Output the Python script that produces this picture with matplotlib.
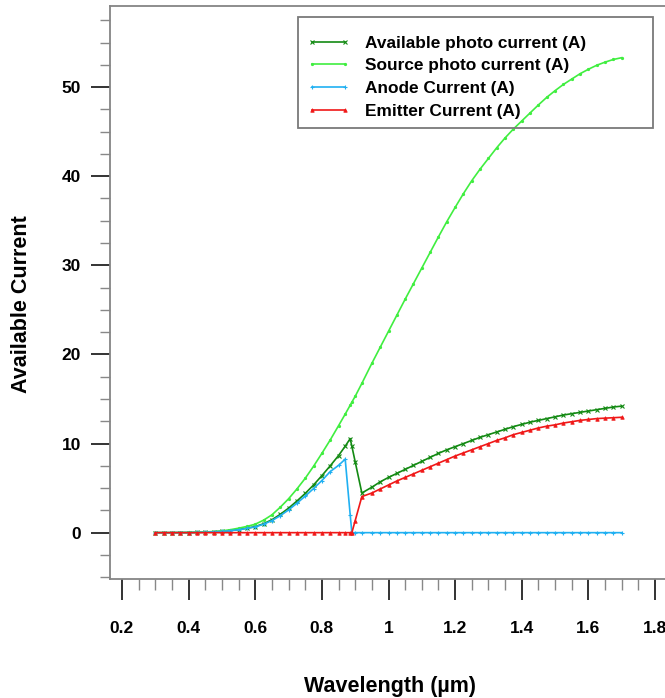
#!/usr/bin/env python3
# -*- coding: utf-8 -*-

import matplotlib
matplotlib.use('Agg')
import matplotlib.pyplot as plt
from matplotlib.patches import Rectangle
from matplotlib.ticker import MultipleLocator

plt.rcParams['font.family'] = ['Liberation Sans', 'DejaVu Sans']
plt.rcParams['font.weight'] = 'bold'

wavelength = [0.300, 0.325, 0.350, 0.375, 0.400, 0.425, 0.450, 0.475, 0.500,
              0.525, 0.550, 0.575, 0.600, 0.625, 0.650, 0.675, 0.700, 0.725,
              0.750, 0.775, 0.800, 0.825, 0.850, 0.870, 0.885, 0.890, 0.900,
              0.920, 0.950, 0.975, 1.000, 1.025, 1.050, 1.075, 1.100, 1.125,
              1.150, 1.175, 1.200, 1.225, 1.250, 1.275, 1.300, 1.325, 1.350,
              1.375, 1.400, 1.425, 1.450, 1.475, 1.500, 1.525, 1.550, 1.575,
              1.600, 1.625, 1.650, 1.675, 1.700]

available = [0.00, 0.00, 0.00, 0.01, 0.01, 0.03, 0.05, 0.09, 0.14,
             0.23, 0.35, 0.50, 0.68, 1.00, 1.45, 2.05, 2.75, 3.55,
             4.40, 5.35, 6.40, 7.50, 8.65, 9.70, 10.55, 9.70, 7.95,
             4.45, 5.10, 5.70, 6.20, 6.65, 7.10, 7.55, 8.00, 8.45,
             8.90, 9.30, 9.65, 10.00, 10.35, 10.70, 11.00, 11.30, 11.60,
             11.90, 12.15, 12.40, 12.60, 12.80, 13.00, 13.20, 13.35, 13.50,
             13.65, 13.80, 13.95, 14.10, 14.20]

source = [0.00, 0.00, 0.00, 0.01, 0.02, 0.04, 0.07, 0.13, 0.20,
          0.33, 0.50, 0.70, 0.95, 1.40, 2.00, 2.85, 3.80, 4.90,
          6.10, 7.45, 8.90, 10.40, 12.00, 13.30, 14.30, 14.65, 15.30,
          16.75, 19.00, 20.80, 22.60, 24.40, 26.20, 27.95, 29.70, 31.45,
          33.20, 34.90, 36.50, 38.05, 39.50, 40.80, 42.00, 43.20, 44.30,
          45.30, 46.20, 47.10, 48.00, 48.85, 49.60, 50.30, 50.90, 51.50,
          52.00, 52.45, 52.80, 53.10, 53.30]

anode = [0.00, 0.00, 0.00, 0.01, 0.01, 0.03, 0.05, 0.09, 0.14,
         0.22, 0.33, 0.48, 0.65, 0.95, 1.35, 1.90, 2.55, 3.30,
         4.10, 4.95, 5.85, 6.85, 7.55, 8.25, 2.00, 0.00, 0.00,
         0.00, 0.00, 0.00, 0.00, 0.00, 0.00, 0.00, 0.00, 0.00,
         0.00, 0.00, 0.00, 0.00, 0.00, 0.00, 0.00, 0.00, 0.00,
         0.00, 0.00, 0.00, 0.00, 0.00, 0.00, 0.00, 0.00, 0.00,
         0.00, 0.00, 0.00, 0.00, 0.00]

emitter = [0.00, 0.00, 0.00, 0.00, 0.00, 0.00, 0.00, 0.00, 0.00,
           0.00, 0.00, 0.00, 0.00, 0.00, 0.00, 0.00, 0.00, 0.00,
           0.00, 0.00, 0.00, 0.00, 0.00, 0.00, 0.00, 0.00, 1.35,
           4.05, 4.45, 4.90, 5.35, 5.80, 6.20, 6.60, 7.00, 7.40,
           7.80, 8.20, 8.60, 8.95, 9.30, 9.65, 10.00, 10.35, 10.65,
           11.00, 11.25, 11.50, 11.75, 11.95, 12.10, 12.30, 12.45, 12.60,
           12.70, 12.80, 12.85, 12.90, 12.95]


if __name__ == '__main__':
    fig = plt.figure(figsize=(6.65, 6.98), dpi=100)
    W, H = 665.0, 698.0
    # axes box in pixels: left 110, top 6, bottom 579, right beyond the image
    ax = fig.add_axes([110 / W, (H - 579) / H, 565 / W, 573 / H])

    kw = dict(linewidth=1.2, markersize=3, markeredgewidth=0.8)
    ax.plot(wavelength, available, color='#138a13', marker='x',
            label='Available photo current (A)', **kw)
    ax.plot(wavelength, source, color='#40ee40', marker='.',
            label='Source photo current (A)', **kw)
    ax.plot(wavelength, anode, color='#20b0f2', marker='+',
            label='Anode Current (A)', **kw)
    ax.plot(wavelength, emitter, color='#f01818', marker='^',
            label='Emitter Current (A)', linewidth=1.2, markersize=2.5,
            markeredgewidth=0.6)

    ax.set_xlim(0.164, 1.86)
    ax.set_ylim(-5.2, 59.1)
    ax.xaxis.set_minor_locator(MultipleLocator(0.05))
    ax.yaxis.set_major_locator(MultipleLocator(10))
    ax.yaxis.set_minor_locator(MultipleLocator(2.5))
    ax.set_xticks([0.2, 0.4, 0.6, 0.8, 1.0, 1.2, 1.4, 1.6, 1.8])
    ax.set_xticklabels(['0.2', '0.4', '0.6', '0.8', '1', '1.2', '1.4',
                        '1.6', '1.8'])

    for side in ['left', 'bottom', 'top', 'right']:
        ax.spines[side].set_color('#858585')
        ax.spines[side].set_linewidth(1.3)

    ax.tick_params(axis='x', which='major', direction='out', length=15,
                   width=1.4, color='#333333', pad=15, labelsize=12.5)
    ax.tick_params(axis='x', which='minor', direction='out', length=8,
                   width=1.0, color='#888888')
    ax.tick_params(axis='y', which='major', direction='out', length=14,
                   width=1.4, color='#333333', pad=7, labelsize=12.5)
    ax.tick_params(axis='y', which='minor', direction='out', length=7,
                   width=1.0, color='#888888')

    ax.set_xlabel('Wavelength (µm)', fontsize=15.5, fontweight='bold')
    ax.set_ylabel('Available Current', fontsize=15.5, fontweight='bold')
    ax.xaxis.set_label_coords(280 / 565, (579 - 676) / 573)
    ax.yaxis.set_label_coords((32 - 110) / 565, (579 - 304) / 573)

    # legend entries without frame, the box drawn on its own
    leg = ax.legend(loc='upper left',
                    bbox_to_anchor=(298 / W, 1 - 27 / H),
                    bbox_transform=fig.transFigure,
                    borderaxespad=0, frameon=False,
                    fontsize=12.4, numpoints=2, handlelength=2.5,
                    handletextpad=0.87, labelspacing=0.44, borderpad=0.5)
    for t in leg.get_texts():
        t.set_fontweight('bold')
    fig.patches.append(Rectangle((298 / W, 1 - 128 / H), 355 / W, 111 / H,
                                 transform=fig.transFigure, fill=False,
                                 edgecolor='#7a7a7a', linewidth=1.3,
                                 zorder=5))

    plt.savefig('out.png', dpi=100)
    plt.close()
